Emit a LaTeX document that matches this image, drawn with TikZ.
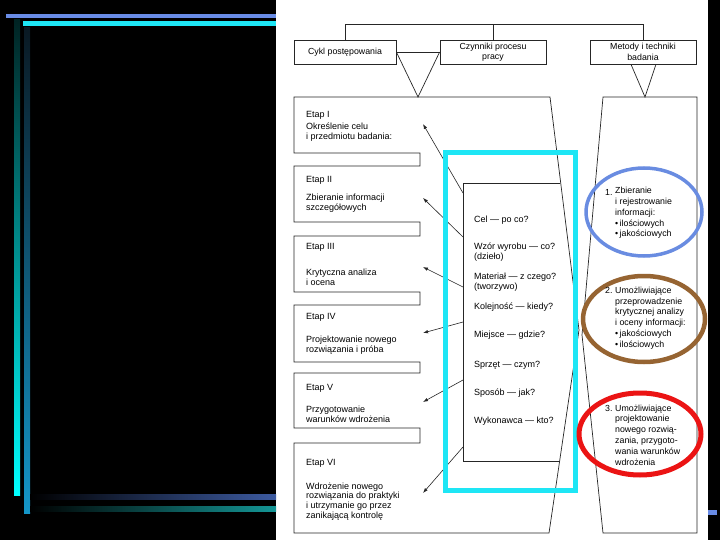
\documentclass[tikz,border=0pt]{standalone}
\usepackage{fontspec}
\setmainfont{Liberation Sans}
\usetikzlibrary{positioning, arrows.meta}

\definecolor{barblue}{RGB}{105,140,230}
\definecolor{barcyan}{RGB}{30,230,245}
\definecolor{ringblue}{RGB}{105,140,225}
\definecolor{ringbrown}{RGB}{150,100,50}
\definecolor{ringred}{RGB}{235,20,20}

\begin{document}
\begin{tikzpicture}[x=1pt, y=-1pt, >=latex,
	line/.style={line width=0.7pt, black!85},
	hbox/.style={draw, line width=0.7pt, black!85, text=black, minimum height=24pt, align=center, inner sep=1pt, font=\fontsize{8.8}{10.5}\selectfont},
	txt/.style={anchor=west, inner sep=0pt, align=left, font=\fontsize{9}{9.8}\selectfont},
	rtxt/.style={txt, font=\fontsize{8.8}{10.8}\selectfont},
	arrow/.style={-{Latex[length=5pt, width=3.5pt]}, line width=0.6pt, black!85}]

	\useasboundingbox (0,0) rectangle (720,540);
	\fill[black] (0,0) rectangle (720,540);
	\fill[white] (276,0) rectangle (708,540);

	% slide bars
	\fill[barblue] (6,14) rectangle (276,18);
	\fill[barcyan] (23,21) rectangle (276,26);
	\shade[top color={rgb,255:red,0;green,35;blue,35}, bottom color={rgb,255:red,0;green,255;blue,255}] (14,20) rectangle (20,495);
	\shade[top color={rgb,255:red,10;green,25;blue,35}, bottom color={rgb,255:red,20;green,150;blue,200}] (24,28) rectangle (30,513);
	\shade[left color=black, right color={rgb,255:red,60;green,90;blue,160}] (30,494) rectangle (276,499);
	\shade[left color=black, right color={rgb,255:red,20;green,150;blue,150}] (30,506) rectangle (276,511);
	\fill[barblue] (708,510) rectangle (717,515);

	\node[hbox, minimum width=102pt] (cykl) at (345,52) {Cykl postępowania};
	\node[hbox, minimum width=106pt] (czynniki) at (493,52) {Czynniki procesu\\pracy};
	\node[hbox, minimum width=106pt] (metody) at (643,52) {Metody i techniki\\badania};

	\coordinate (topline) at (0,24);
	\draw[line] (cykl.north) -- (cykl.north |- topline) -- (metody.north |- topline) -- (metody.north);
	\draw[line] (czynniki.north) -- (czynniki.north |- topline);
	\draw[line] (cykl.east) -- (czynniki.west);

	\coordinate (apexL) at (418,97);
	\coordinate (apexR) at (645,97);
	\draw[line] (cykl.east) -- (apexL) -- (czynniki.west);
	\draw[line] ([xshift=-12pt]metody.south) -- (apexR) -- ([xshift=13pt]metody.south);

	% kolumna etapow
	\draw[line] (294,97) -- (550,97) -- (579,330) -- (549,533) -- (294,533) -- (294,443)
		-- (420,443) -- (420,428) -- (294,428) -- (294,373)
		-- (420,373) -- (420,362) -- (294,362) -- (294,305)
		-- (420,305) -- (420,292) -- (294,292) -- (294,236)
		-- (420,236) -- (420,222) -- (294,222) -- (294,166)
		-- (420,166) -- (420,153) -- (294,153) -- cycle;
	\draw[line] (560,183) -- (463,183) -- (463,461) -- (560,461);
	\draw[line] (603,97) -- (697,97) -- (697,533) -- (603,533) -- (582,335) -- cycle;

	\node[txt] (e1) at (306,115) {Etap I};
	\node[txt] (e1t) at (306,132) {Określenie celu\\i przedmiotu badania:};
	\node[txt] (e2) at (306,180) {Etap II};
	\node[txt] (e2t) at (306,203.5) {Zbieranie informacji\\szczegółowych};
	\node[txt] (e3) at (306,247) {Etap III};
	\node[txt] (e3t) at (306,277) {Krytyczna analiza\\i ocena};
	\node[txt] (e4) at (306,317) {Etap IV};
	\node[txt] (e4t) at (306,345) {Projektowanie nowego\\rozwiązania i próba};
	\node[txt] (e5) at (306,388) {Etap V};
	\node[txt] (e5t) at (306,414.5) {Przygotowanie\\warunków wdrożenia};
	\node[txt] (e6) at (306,463) {Etap VI};
	\node[txt] (e6t) at (306,501.5) {Wdrożenie nowego\\rozwiązania do praktyki\\i utrzymanie go przez\\zanikającą kontrolę};

	\node[txt] (q1) at (474,220) {Cel — po co?};
	\node[txt] (q2) at (474,252.5) {Wzór wyrobu — co?\\(dzieło)};
	\node[txt] (q3) at (474,282) {Materiał — z czego?\\(tworzywo)};
	\node[txt] (q4) at (474,307) {Kolejność — kiedy?};
	\node[txt] (q5) at (474,335) {Miejsce — gdzie?};
	\node[txt] (q6) at (474,365) {Sprzęt — czym?};
	\node[txt] (q7) at (474,393) {Sposób — jak?};
	\node[txt] (q8) at (474,421) {Wykonawca — kto?};

	\foreach \sy/\ty [count=\i] in {193/124, 237/198, 287/267, 322/333, 380/402, 447/493} {
		\coordinate (src\i) at (463,\sy);
		\coordinate (dst\i) at (423,\ty);
		\draw[arrow] (src\i) -- (dst\i);
	}

	\draw[barcyan, line width=5pt] (445.5,152.5) rectangle (575.5,490.5);

	\draw[ringblue, line width=3.5pt] (644,212) ellipse [x radius=58pt, y radius=44pt];
	\draw[ringbrown, line width=4.5pt] (644,319) ellipse [x radius=61pt, y radius=43pt];
	\draw[ringred, line width=5pt] (640,434) ellipse [x radius=61pt, y radius=41pt];

	\node[rtxt] (m1n) at (605,192) {1.};
	\node[rtxt] (m1) at (615,213) {Zbieranie\\i rejestrowanie\\informacji:\\\textbullet\,ilościowych\\\textbullet\,jakościowych};
	\node[rtxt] (m2n) at (605,290) {2.};
	\node[rtxt] (m2) at (615,318) {Umożliwiające\\przeprowadzenie\\krytycznej analizy\\i oceny informacji:\\\textbullet\,jakościowych\\\textbullet\,ilościowych};
	\node[rtxt] (m3n) at (605,408) {3.};
	\node[rtxt] (m3) at (615,435) {Umożliwiające\\projektowanie\\nowego rozwią-\\zania, przygoto-\\wania warunków\\wdrożenia};
\end{tikzpicture}
\end{document}
